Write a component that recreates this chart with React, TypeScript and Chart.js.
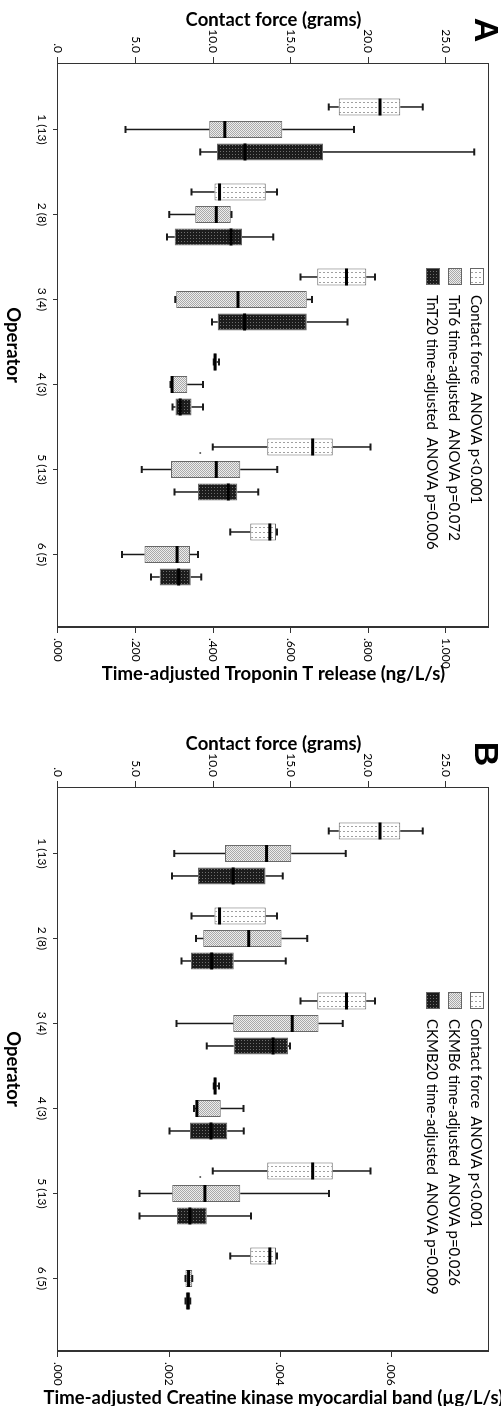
import React, { useEffect, useRef } from "react";
import { Chart, registerables } from "chart.js";
Chart.register(...registerables);

// ---------- data ----------
const operators = ["1 (13)", "2 (8)", "3 (4)", "4 (3)", "5 (13)", "6 (5)"];
const operatorIndex = [1, 2, 3, 4, 5, 6];

// five-number summaries: [min, q1, median, q3, max]
const contactForce = [
  [17.44, 18.09, 20.75, 22.05, 23.51],
  [8.61, 10.09, 10.41, 13.38, 14.11],
  [15.62, 16.71, 18.59, 19.87, 20.43],
  [10.03, 10.06, 10.12, 10.22, 10.38],
  [9.97, 13.49, 16.41, 17.71, 20.14],
  [11.1, 12.39, 13.65, 14.05, 14.12],
];
const contactOutliers = [[], [], [], [], [9.17], []];

const tnt6 = [
  [0.174, 0.39, 0.43, 0.578, 0.763],
  [0.287, 0.354, 0.408, 0.445, 0.447],
  [0.302, 0.305, 0.464, 0.641, 0.655],
  [0.29, 0.292, 0.294, 0.333, 0.374],
  [0.216, 0.291, 0.408, 0.47, 0.565],
  [0.165, 0.223, 0.307, 0.34, 0.361],
];
const tnt20 = [
  [0.367, 0.41, 0.482, 0.683, 1.073],
  [0.281, 0.301, 0.446, 0.474, 0.555],
  [0.397, 0.412, 0.481, 0.641, 0.746],
  [0.295, 0.303, 0.315, 0.344, 0.374],
  [0.3, 0.361, 0.439, 0.462, 0.516],
  [0.24, 0.262, 0.311, 0.342, 0.369],
];
const ckmb6 = [
  [0.002093, 0.003005, 0.003754, 0.004198, 0.005181],
  [0.002486, 0.002614, 0.003433, 0.004023, 0.004486],
  [0.002135, 0.003153, 0.004216, 0.00469, 0.005123],
  [0.00245, 0.00249, 0.0025, 0.00293, 0.00334],
  [0.001468, 0.002058, 0.002644, 0.003281, 0.004877],
  [0.002293, 0.002293, 0.00235, 0.002416, 0.002416],
];
const ckmb20 = [
  [0.002053, 0.002521, 0.003153, 0.003737, 0.004047],
  [0.002222, 0.002392, 0.002766, 0.003164, 0.0041],
  [0.002678, 0.003164, 0.003871, 0.00414, 0.004175],
  [0.002005, 0.002374, 0.002754, 0.003047, 0.003345],
  [0.001468, 0.00214, 0.002374, 0.002678, 0.003474],
  [0.002293, 0.0023, 0.00234, 0.00238, 0.00238],
];

const contactTicks = [0, 5, 10, 15, 20, 25];
const tntTicks = [0, 0.2, 0.4, 0.6, 0.8, 1.0];
const ckmbTicks = [0, 0.002, 0.004, 0.006];

const legendA = [
  "Contact force  ANOVA p<0.001",
  "TnT6 time-adjusted  ANOVA p=0.072",
  "TnT20 time-adjusted  ANOVA p=0.006",
];
const legendB = [
  "Contact force  ANOVA p<0.001",
  "CKMB6 time-adjusted  ANOVA p=0.026",
  "CKMB20 time-adjusted  ANOVA p=0.009",
];

// ---------- styling ----------
const FONT = 'Lato, "Noto Sans", sans-serif';
const W = 724; // unrotated width (becomes page height of a panel)
const H = 501; // unrotated height (becomes page width)

function makePattern(kind: string): CanvasPattern | string {
  const c = document.createElement("canvas");
  const g = c.getContext("2d");
  if (!g) return "#ccc";
  if (kind === "light") {
    c.width = 5; c.height = 4;
    g.fillStyle = "#ffffff"; g.fillRect(0, 0, 5, 4);
    g.fillStyle = "#a0a0a0"; g.fillRect(2, 0, 1, 2);
  } else if (kind === "mid") {
    c.width = 2; c.height = 2;
    g.fillStyle = "#ededed"; g.fillRect(0, 0, 2, 2);
    g.fillStyle = "#a9a9a9"; g.fillRect(0, 0, 1, 1); g.fillRect(1, 1, 1, 1);
  } else {
    c.width = 3; c.height = 3;
    g.fillStyle = "#1c1c1c"; g.fillRect(0, 0, 3, 3);
    g.fillStyle = "#6e6e6e"; g.fillRect(1, 1, 1, 1);
  }
  return g.createPattern(c, "repeat") || "#ccc";
}

const boxPlugin = {
  id: "boxExtras",
  afterDatasetsDraw(chart: any) {
    const ctx = chart.ctx;
    chart.data.datasets.forEach((ds: any, di: number) => {
      const meta = chart.getDatasetMeta(di);
      const ys = chart.scales[meta.yAxisID];
      meta.data.forEach((el: any, i: number) => {
        const s = ds.stats[i];
        const x = el.x;
        const w = el.width;
        const pMin = ys.getPixelForValue(s[0]);
        const pQ1 = ys.getPixelForValue(s[1]);
        const pMed = ys.getPixelForValue(s[2]);
        const pQ3 = ys.getPixelForValue(s[3]);
        const pMax = ys.getPixelForValue(s[4]);
        ctx.save();
        ctx.strokeStyle = "#1a1a1a";
        ctx.lineWidth = 1.5;
        ctx.beginPath();
        ctx.moveTo(x, pQ1); ctx.lineTo(x, pMin);
        ctx.moveTo(x, pQ3); ctx.lineTo(x, pMax);
        ctx.stroke();
        ctx.lineWidth = 2;
        ctx.beginPath();
        ctx.moveTo(x - 3.5, pMin); ctx.lineTo(x + 3.5, pMin);
        ctx.moveTo(x - 3.5, pMax); ctx.lineTo(x + 3.5, pMax);
        ctx.stroke();
        ctx.lineWidth = 3;
        ctx.strokeStyle = "#000";
        ctx.beginPath();
        ctx.moveTo(x - w / 2, pMed); ctx.lineTo(x + w / 2, pMed);
        ctx.stroke();
        const outs = ds.outliers ? ds.outliers[i] : [];
        (outs || []).forEach((v: number) => {
          ctx.fillStyle = "#555";
          ctx.beginPath();
          ctx.arc(x + 6, ys.getPixelForValue(v), 1, 0, Math.PI * 2);
          ctx.fill();
        });
        ctx.restore();
      });
    });
  },
  afterDraw(chart: any) {
    const ctx = chart.ctx;
    const a = chart.chartArea;
    const opt = chart.options.plugins.boxExtras;
    ctx.save();
    // frame
    ctx.strokeStyle = "#333";
    ctx.lineWidth = 1;
    ctx.strokeRect(Math.round(a.left) + 0.5, Math.round(a.top) + 0.5, Math.round(a.right - a.left) - 1, Math.round(a.bottom - a.top));
    const cy = (a.top + a.bottom) / 2;
    // axis titles (read bottom-to-top here, left-to-right after page rotation)
    ctx.fillStyle = "#000";
    ctx.font = `bold 18.5px ${FONT}`;
    ctx.textAlign = "center";
    ctx.textBaseline = "middle";
    ctx.save();
    ctx.translate(20, cy); ctx.rotate(-Math.PI / 2);
    ctx.fillText(opt.leftTitle, 0, 0);
    ctx.restore();
    ctx.save();
    ctx.translate(674, cy); ctx.rotate(-Math.PI / 2);
    ctx.fillText(opt.rightTitle, 0, 0);
    ctx.restore();
    ctx.fillText("Operator", (a.left + a.right) / 2, 488);
    // panel letter
    ctx.font = `bold 34px "Liberation Sans", Arial, sans-serif`;
    ctx.textAlign = "center";
    ctx.textBaseline = "alphabetic";
    ctx.fillText(opt.letter, 30, 26);
    // legend
    const rows = [24, 46, 68];
    ctx.font = `15px ${FONT}`;
    ctx.textAlign = "left";
    ctx.textBaseline = "middle";
    chart.data.datasets.forEach((ds: any, i: number) => {
      const ry = rows[i];
      ctx.fillStyle = ds.backgroundColor;
      ctx.fillRect(268, ry - 7, 17, 14);
      ctx.strokeStyle = "#666";
      ctx.strokeRect(268.5, ry - 6.5, 16, 13);
      ctx.fillStyle = "#000";
      ctx.fillText(opt.legend[i], 295, ry + 1);
    });
    ctx.restore();
  },
};

type PanelProps = {
  top: number;
  letter: string;
  rightTitle: string;
  s6: number[][];
  s20: number[][];
  vTicks: number[];
  vMax: number;
  legend: string[];
};

function Panel(p: PanelProps) {
  const ref = useRef<HTMLCanvasElement | null>(null);
  useEffect(() => {
    if (!ref.current) return;
    const light = makePattern("light");
    const mid = makePattern("mid");
    const dark = makePattern("dark");
    const mk = (stats: number[][]) => operatorIndex.map((x, i) => ({ x, y: [stats[i][1], stats[i][3]] }));
    const common = {
      borderColor: "#666",
      borderWidth: 1,
      borderSkipped: false,
      categoryPercentage: 0.794,
      barPercentage: 0.756,
    };
    const tickFont = { family: FONT, size: 12 };
    const chart = new Chart(ref.current, {
      type: "bar",
      data: {
        datasets: [
          { ...common, label: p.legend[0], data: mk(contactForce), yAxisID: "yF", backgroundColor: light, stats: contactForce, outliers: contactOutliers } as any,
          { ...common, label: p.legend[1], data: mk(p.s6), yAxisID: "yV", backgroundColor: mid, stats: p.s6 } as any,
          { ...common, label: p.legend[2], data: mk(p.s20), yAxisID: "yV", backgroundColor: dark, stats: p.s20 } as any,
        ],
      },
      options: {
        animation: false,
        responsive: false,
        maintainAspectRatio: false,
        layout: { padding: { top: 1, left: 0, right: 0, bottom: 0 }, autoPadding: false } as any,
        plugins: {
          legend: { display: false },
          tooltip: { enabled: false },
          boxExtras: { leftTitle: "Contact force (grams)", rightTitle: p.rightTitle, letter: p.letter, legend: p.legend },
        } as any,
        scales: {
          x: {
            type: "linear",
            position: "bottom",
            min: 0.218,
            max: 6.853,
            offset: false,
            afterBuildTicks: (s: any) => { s.ticks = operatorIndex.map((v) => ({ value: v })); },
            afterFit: (s: any) => { s.height = 58; },
            ticks: { callback: (v: any) => operators[Number(v) - 1], font: tickFont, color: "#000", padding: 4, maxRotation: 0, minRotation: 0, autoSkip: false },
            grid: { display: true, drawOnChartArea: false, drawTicks: true, tickLength: 5, color: "#333", offset: false },
            border: { display: true, color: "#333" },
          },
          yF: {
            type: "linear",
            position: "left",
            min: 0,
            max: 27.76,
            afterBuildTicks: (s: any) => { s.ticks = contactTicks.map((v) => ({ value: v })); },
            afterFit: (s: any) => { s.width = 63; },
            ticks: { callback: (v: any) => Number(v).toFixed(1).replace(/^0\./, "."), font: tickFont, color: "#000", padding: 4 },
            grid: { display: true, drawOnChartArea: false, drawTicks: true, tickLength: 6, color: "#333" },
            border: { display: true, color: "#333" },
          },
          yV: {
            type: "linear",
            position: "right",
            min: 0,
            max: p.vMax,
            afterBuildTicks: (s: any) => { s.ticks = p.vTicks.map((v) => ({ value: v })); },
            afterFit: (s: any) => { s.width = W - 627; },
            ticks: { callback: (v: any) => Number(v).toFixed(3).replace(/^0\./, "."), font: tickFont, color: "#000", padding: 5 },
            grid: { display: true, drawOnChartArea: false, drawTicks: true, tickLength: 6, color: "#333" },
            border: { display: true, color: "#333" },
          },
        },
      } as any,
      plugins: [boxPlugin],
    });
    return () => chart.destroy();
  }, []);
  return (
    <div
      style={{
        position: "absolute",
        left: 0,
        top: p.top,
        width: W,
        height: H,
        transformOrigin: "0 0",
        transform: `translateX(${H}px) rotate(90deg)`,
      }}
    >
      <canvas ref={ref} width={W} height={H} style={{ display: "block", width: W, height: H }} />
    </div>
  );
}

export default function App() {
  return (
    <div style={{ position: "absolute", left: 0, top: 0, width: 501, height: 1406, overflow: "hidden", background: "#fff" }}>
      <Panel top={0} letter="A" rightTitle="Time-adjusted Troponin T release (ng/L/s)" s6={tnt6} s20={tnt20} vTicks={tntTicks} vMax={1.1105} legend={legendA} />
      <Panel top={724} letter="B" rightTitle="Time-adjusted Creatine kinase myocardial band (µg/L/s)" s6={ckmb6} s20={ckmb20} vTicks={ckmbTicks} vMax={0.007754} legend={legendB} />
    </div>
  );
}
